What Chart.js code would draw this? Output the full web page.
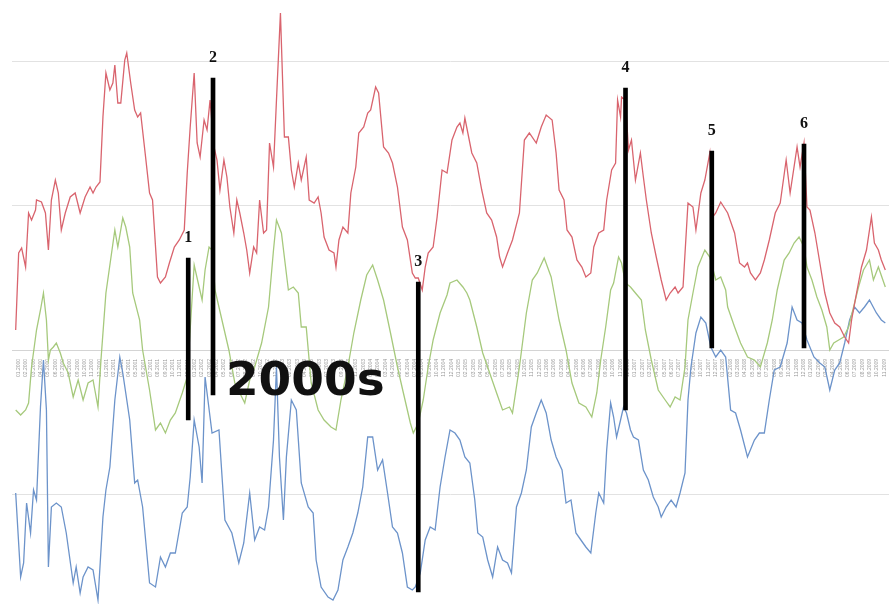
<!DOCTYPE html>
<html>
<head>
<meta charset="utf-8">
<script src="https://cdn.jsdelivr.net/npm/chart.js@4.4.1/dist/chart.umd.min.js"></script>
<style>
html, body { margin: 0; padding: 0; background: #fff; }
canvas { display: block; }
</style>
</head>
<body>
<canvas id="waveChart" width="889" height="604"></canvas>
<script>
var redX = [12,15,18,22,25,28,32,33,38,42,45,48,52,55,58,62,67,72,77,82,87,90,93,97,100,103,107,110,112,115,118,122,124,128,132,135,138,143,147,150,155,158,163,167,172,177,182,185,188,192,195,198,202,205,208,212,215,218,222,225,228,232,235,238,242,245,248,252,255,258,262,265,268,272,275,279,283,287,290,293,297,300,305,308,313,317,320,323,328,333,335,338,342,347,350,355,358,363,367,370,375,378,383,388,392,397,402,407,412,415,418,422,425,428,433,437,442,447,452,457,460,463,465,468,472,477,482,487,492,497,500,503,508,513,520,525,530,537,542,547,553,557,560,565,568,573,578,583,587,592,595,600,605,608,613,617,619,622,623,627,630,633,637,642,645,648,653,658,663,668,672,677,680,685,690,695,698,703,707,712,715,718,723,730,737,742,747,750,753,758,763,767,772,778,783,789,793,800,803,807,810,813,818,823,828,833,838,843,848,852,855,860,865,870,875,878,882,885,889];
var redY = [20,97,102,83,137,130,140,150,148,137,100,150,170,157,120,137,153,157,137,153,163,157,163,168,233,277,260,267,285,247,247,290,297,267,240,233,237,193,157,150,73,67,73,87,103,110,120,177,223,277,207,193,230,220,250,203,190,160,190,173,143,117,150,137,117,100,77,103,97,150,117,120,207,183,250,337,213,213,180,163,187,170,193,150,147,153,137,113,100,97,83,110,123,117,157,183,217,223,237,240,263,257,203,197,187,163,123,110,77,72,72,60,83,97,103,133,180,177,210,223,227,217,232,217,197,187,160,137,130,113,93,83,97,110,137,210,217,207,223,235,230,197,160,150,120,113,90,83,73,77,103,117,120,150,180,187,250,233,253,250,200,210,170,197,173,150,117,93,70,50,57,63,57,63,147,143,120,157,170,197,133,137,148,137,117,87,83,87,77,70,77,90,110,137,147,190,157,203,183,207,143,140,117,87,57,37,27,23,13,7,30,57,83,100,133,107,100,90,80];

var greenX = [12,17,22,25,28,33,37,40,43,45,47,50,53,57,60,65,70,75,80,85,90,95,98,103,112,115,120,123,127,130,137,140,147,153,158,163,168,173,180,185,192,197,200,203,207,210,213,220,227,233,238,243,248,253,260,267,272,275,280,287,292,297,300,305,310,317,323,330,335,340,347,353,360,366,372,377,383,390,397,403,410,413,418,423,428,433,440,447,450,457,463,467,470,477,483,490,497,503,510,513,520,527,533,538,545,552,555,560,567,573,580,587,593,598,602,607,612,615,620,623,627,632,637,643,647,653,660,667,672,677,682,687,690,695,700,707,712,718,723,728,730,737,743,750,757,763,770,775,780,787,792,797,802,807,810,815,820,825,830,833,837,842,847,852,857,862,867,873,877,882,889];
var greenY = [-60,-65,-60,-53,-17,20,40,57,30,-10,0,3,7,-3,-13,-23,-47,-30,-50,-33,-30,-57,-10,57,120,103,132,123,103,57,30,0,-40,-80,-73,-83,-70,-63,-43,-27,85,63,50,80,103,100,60,30,0,-33,-43,-53,-30,-17,7,43,100,130,117,60,63,57,23,23,-33,-60,-70,-77,-80,-50,-17,17,50,75,85,70,50,17,-17,-43,-73,-83,-73,-50,-17,10,37,55,67,70,63,57,50,23,-3,-23,-43,-60,-57,-63,-17,37,70,77,92,73,57,30,0,-33,-53,-57,-67,-43,-10,23,60,67,93,87,67,63,57,50,20,-10,-40,-50,-57,-47,-50,-17,30,57,83,100,93,70,73,60,43,23,7,-7,-10,-17,7,30,60,90,97,107,113,103,83,70,53,40,23,0,7,10,13,23,43,63,80,90,70,83,63];

var blueX = [12,17,20,23,27,30,33,37,40,43,45,48,53,58,63,70,73,77,80,85,90,95,100,103,107,112,117,120,123,127,132,135,140,147,153,158,163,168,173,180,185,188,192,197,200,203,210,217,223,230,237,242,248,253,258,263,267,272,275,278,282,285,290,295,300,307,312,315,320,327,332,337,342,347,352,357,362,367,372,377,382,387,392,397,402,407,412,415,420,425,430,435,440,445,450,455,460,465,470,475,478,483,488,493,498,503,508,512,517,522,527,532,537,542,547,552,557,563,567,572,577,582,587,592,597,600,605,608,612,615,618,622,625,628,632,635,640,645,650,655,660,663,668,673,678,682,687,690,693,698,703,708,713,718,723,728,733,738,743,750,757,762,767,772,777,783,790,795,800,805,810,817,823,828,833,838,843,848,853,858,863,868,873,880,885,889];
var blueY = [-143,-227,-213,-153,-183,-140,-150,-57,-10,-60,-217,-157,-153,-157,-183,-233,-217,-243,-227,-217,-220,-250,-167,-140,-117,-50,-7,-23,-43,-70,-133,-130,-157,-233,-237,-207,-217,-203,-203,-163,-157,-127,-70,-97,-133,-27,-83,-80,-170,-183,-213,-193,-143,-190,-177,-180,-157,-90,-17,-107,-170,-107,-50,-60,-133,-157,-163,-210,-237,-247,-250,-240,-210,-197,-183,-163,-137,-87,-87,-120,-110,-143,-177,-183,-203,-237,-240,-237,-223,-190,-177,-180,-137,-107,-80,-83,-90,-107,-113,-150,-183,-187,-210,-227,-197,-210,-213,-223,-157,-143,-120,-77,-63,-50,-63,-90,-107,-120,-153,-150,-183,-190,-197,-203,-163,-143,-153,-100,-53,-67,-87,-70,-57,-63,-80,-87,-90,-120,-130,-147,-157,-167,-157,-150,-157,-143,-123,-50,-17,17,33,27,3,-7,0,-7,-60,-63,-80,-107,-90,-83,-83,-50,-20,-17,7,43,30,27,10,-7,-13,-17,-40,-20,-13,7,30,43,37,43,50,37,30,27];

var markerX = [186, 211, 418, 627, 714, 807];
var markerTop = [92, 272, 68, 262, 199, 206];
var markerBottom = [-70, -45, -242, -60, 2, 2];
var markerLabels = ['1', '2', '3', '4', '5', '6'];

var eraLabel = '2000s';
var eraX = 224;
var eraY = -45;

var tickYears = [2000, 2001, 2002, 2003, 2004, 2005, 2006, 2007, 2008, 2009];
var tickMonths = ['01', '02', '03', '04', '05', '06', '07', '08', '09', '10', '11', '12'];
var tickLabels = [];
for (var a = 0; a < tickYears.length; a++) {
    for (var b = 0; b < tickMonths.length; b++) {
        tickLabels.push(tickMonths[b] + '.' + tickYears[a]);
    }
}

function toPoints(xs, ys) {
    var pts = [];
    for (var i = 0; i < xs.length; i++) {
        pts.push({ x: xs[i], y: ys[i] });
    }
    return pts;
}

var markerData = [];
for (var m = 0; m < markerX.length; m++) {
    markerData.push({ x: markerX[m], y: [markerBottom[m], markerTop[m]] });
}

var overlayPlugin = {
    id: 'overlay',
    afterDatasetsDraw: function (chart) {
        var ctx = chart.ctx;
        var xs = chart.scales.x;
        var ys = chart.scales.y;
        ctx.save();
        ctx.fillStyle = '#111';
        ctx.textAlign = 'center';
        ctx.textBaseline = 'alphabetic';
        ctx.font = 'bold 16px "Liberation Serif"';
        for (var i = 0; i < markerX.length; i++) {
            ctx.fillText(markerLabels[i], xs.getPixelForValue(markerX[i]), ys.getPixelForValue(markerTop[i]) - 16);
        }
        ctx.textAlign = 'left';
        ctx.font = 'bold 47px "DejaVu Sans"';
        ctx.fillText(eraLabel, xs.getPixelForValue(eraX), ys.getPixelForValue(eraY));
        ctx.restore();
    }
};

var ctx = document.getElementById('waveChart').getContext('2d');
var chart = new Chart(ctx, {
    type: 'line',
    data: {
        datasets: [{
            type: 'bar',
            data: markerData,
            backgroundColor: '#000',
            barThickness: 4,
            order: 0
        }, {
            data: toPoints(redX, redY),
            borderColor: '#d9646e',
            borderWidth: 1.3,
            pointRadius: 0,
            order: 1
        }, {
            data: toPoints(greenX, greenY),
            borderColor: '#a6c97c',
            borderWidth: 1.3,
            pointRadius: 0,
            order: 2
        }, {
            data: toPoints(blueX, blueY),
            borderColor: '#6c93ca',
            borderWidth: 1.3,
            pointRadius: 0,
            order: 3
        }]
    },
    options: {
        responsive: false,
        animation: false,
        layout: { padding: { left: 12, right: 0, top: 0, bottom: 0 } },
        plugins: {
            legend: { display: false },
            tooltip: { enabled: false }
        },
        scales: {
            x: {
                type: 'linear',
                min: 12,
                max: 889,
                position: { y: 0 },
                grid: { display: false },
                border: { color: '#d4d4d4' },
                ticks: {
                    stepSize: 7.4,
                    includeBounds: false,
                    autoSkip: false,
                    minRotation: 90,
                    maxRotation: 90,
                    padding: 1,
                    color: '#9a9a9a',
                    font: { size: 5 },
                    callback: function (value, index) {
                        return tickLabels[index % tickLabels.length];
                    }
                },
                afterFit: function (scale) {
                    scale.height = 0;
                    scale.paddingLeft = 0;
                    scale.paddingRight = 0;
                }
            },
            y: {
                min: -254,
                max: 350,
                border: { display: false },
                grid: { color: '#e2e2e2', drawTicks: false },
                ticks: { display: false, stepSize: 144, includeBounds: false },
                afterFit: function (scale) {
                    scale.width = 0;
                }
            }
        }
    },
    plugins: [overlayPlugin]
});
</script>
</body>
</html>
